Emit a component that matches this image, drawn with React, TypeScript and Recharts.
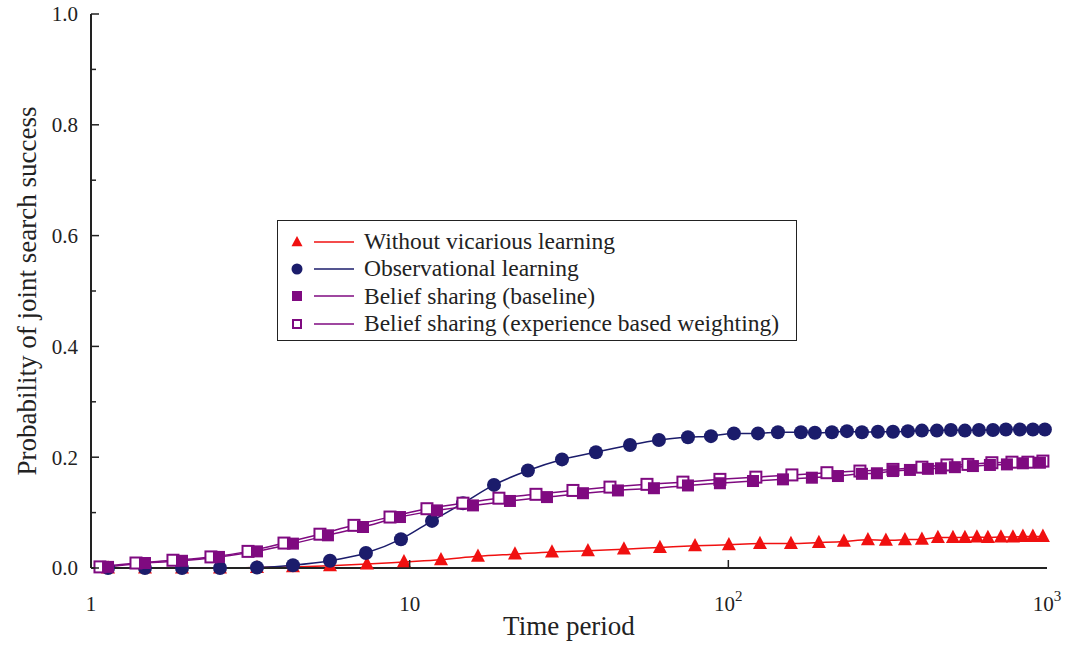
import React from 'react';
import { ComposedChart, Line, XAxis, YAxis, Legend } from 'recharts';

// time period at each marker, and the probability
const noVicariousTime = [1.131, 1.477, 1.93, 2.54, 3.318, 4.303, 5.623, 7.345, 9.596, 12.54, 16.38, 21.4, 27.96, 36.26, 47.03, 61.0, 78.6, 100.4, 125.7, 157.2, 192.4, 230.5, 274.2, 312.2, 358.2, 405.0, 454.6, 506.8, 552.6, 602.6, 652.4, 716.9, 781.8, 840.3, 903.0, 970.9];
const noVicariousProb = [0, 0, 0, 0, 0.001, 0.002, 0.004, 0.007, 0.011, 0.015, 0.021, 0.025, 0.029, 0.031, 0.034, 0.037, 0.04, 0.042, 0.044, 0.044, 0.046, 0.048, 0.051, 0.05, 0.051, 0.052, 0.055, 0.055, 0.055, 0.056, 0.055, 0.056, 0.056, 0.057, 0.057, 0.057];

const observationalTime = [1.131, 1.477, 1.93, 2.54, 3.318, 4.303, 5.623, 7.292, 9.39, 11.75, 14.7, 18.39, 23.5, 30.06, 38.42, 49.13, 60.57, 74.7, 88.2, 104.1, 123.9, 143.1, 169.0, 186.9, 211.4, 235.6, 262.6, 294.7, 328.6, 366.0, 405.0, 451.3, 499.4, 552.6, 611.5, 676.6, 743.1, 822.2, 903.0, 984.9];
const observationalProb = [0, 0, 0, 0, 0.001, 0.005, 0.013, 0.027, 0.052, 0.085, 0.117, 0.15, 0.176, 0.196, 0.209, 0.222, 0.231, 0.236, 0.238, 0.243, 0.243, 0.245, 0.245, 0.244, 0.245, 0.247, 0.245, 0.246, 0.246, 0.247, 0.248, 0.248, 0.249, 0.248, 0.249, 0.249, 0.25, 0.25, 0.25, 0.25];

const baselineTime = [1.131, 1.477, 1.93, 2.521, 3.318, 4.303, 5.541, 7.137, 9.324, 12.18, 15.8, 20.64, 26.97, 34.98, 45.04, 58.42, 74.7, 94.1, 119.5, 148.4, 182.9, 220.8, 262.6, 292.6, 328.6, 371.4, 423.0, 464.6, 514.0, 585.5, 662.0, 748.6, 840.3, 950.2];
const baselineProb = [0.002, 0.009, 0.013, 0.02, 0.03, 0.044, 0.059, 0.074, 0.092, 0.104, 0.113, 0.121, 0.128, 0.135, 0.14, 0.144, 0.149, 0.153, 0.157, 0.16, 0.163, 0.166, 0.17, 0.171, 0.175, 0.177, 0.179, 0.18, 0.182, 0.184, 0.186, 0.187, 0.189, 0.19];

const weightedTime = [1.067, 1.384, 1.808, 2.379, 3.11, 4.033, 5.23, 6.688, 8.676, 11.33, 14.7, 19.06, 24.91, 32.54, 42.52, 55.55, 72.03, 94.1, 122.0, 158.3, 203.9, 258.8, 328.6, 405.0, 485.3, 564.7, 671.5, 776.3, 871.1, 970.9];
const weightedProb = [0.002, 0.009, 0.014, 0.02, 0.03, 0.045, 0.061, 0.077, 0.092, 0.107, 0.117, 0.126, 0.133, 0.14, 0.146, 0.151, 0.155, 0.16, 0.164, 0.168, 0.172, 0.175, 0.178, 0.182, 0.186, 0.187, 0.19, 0.191, 0.191, 0.193];

const xTicks = [1, 10, 100, 1000];
const yTicks = [0, 0.1, 0.2, 0.3, 0.4, 0.5, 0.6, 0.7, 0.8, 0.9, 1.0];
const legendOrder = [
  'Without vicarious learning',
  'Observational learning',
  'Belief sharing (baseline)',
  'Belief sharing (experience based weighting)',
];

const FONT = '"Liberation Serif", "Times New Roman", serif';
const AXIS = '#222';
const RED = '#f01010';
const NAVY = '#1b1c6b';
const PURPLE = '#7f0a80';

const zip = (t: number[], p: number[]) => t.map((v, i) => ({ t: v, p: p[i] }));

type Mark = 'triangle' | 'circle' | 'square' | 'open';

function Marker({ kind, cx, cy, size }: { kind: Mark; cx: number; cy: number; size: number }) {
  const h = size / 2;
  if (kind === 'triangle') {
    return (
      <polygon
        points={`${cx},${cy - size * 0.6} ${cx - h - 0.5},${cy + size * 0.42} ${cx + h + 0.5},${cy + size * 0.42}`}
        fill={RED}
      />
    );
  }
  if (kind === 'circle') return <circle cx={cx} cy={cy} r={h + 0.5} fill={NAVY} />;
  if (kind === 'square') return <rect x={cx - h} y={cy - h} width={size} height={size} fill={PURPLE} />;
  return (
    <rect x={cx - h + 1} y={cy - h + 1} width={size - 2} height={size - 2} fill="#fff" stroke={PURPLE} strokeWidth={2} />
  );
}

const dotFor = (kind: Mark, size: number) => (p: any) => {
  if (p.cx == null || p.cy == null) return <g key={p.index} />;
  return <Marker key={p.index} kind={kind} cx={p.cx} cy={p.cy} size={size} />;
};

const markerByName: Record<string, Mark> = {
  'Without vicarious learning': 'triangle',
  'Observational learning': 'circle',
  'Belief sharing (baseline)': 'square',
  'Belief sharing (experience based weighting)': 'open',
};

function LeftTick({ x, y, payload }: any) {
  const major = Math.round(payload.value * 10) % 2 === 0;
  return (
    <g>
      <line x1={x} y1={y} x2={x + (major ? 8 : 5)} y2={y} stroke={AXIS} strokeWidth={1.5} />
      {major && (
        <text x={x - 13} y={y} dy="0.35em" textAnchor="end" fontFamily={FONT} fontSize={21} fill="#222">
          {payload.value.toFixed(1)}
        </text>
      )}
    </g>
  );
}

function RightTick({ x, y, payload }: any) {
  const major = Math.round(payload.value * 10) % 2 === 0;
  return <line x1={x} y1={y} x2={x - (major ? 8 : 5)} y2={y} stroke={AXIS} strokeWidth={1.5} />;
}

function BottomTick({ x, y, payload }: any) {
  const v = payload.value as number;
  const exp = Math.round(Math.log10(v));
  return (
    <g>
      {exp > 0 && exp < 3 && <line x1={x} y1={y} x2={x} y2={y - 8} stroke={AXIS} strokeWidth={1.5} />}
      <text x={x} y={y + 43} textAnchor="middle" fontFamily={FONT} fontSize={21} fill="#222">
        {exp < 2 ? String(v) : '10'}
        {exp >= 2 && (
          <tspan dy={-10} fontSize={15}>
            {exp}
          </tspan>
        )}
      </text>
    </g>
  );
}

function TopTick({ x, y, payload }: any) {
  const exp = Math.round(Math.log10(payload.value));
  if (exp <= 0 || exp >= 3) return <g />;
  return <line x1={x} y1={y} x2={x} y2={y + 8} stroke={AXIS} strokeWidth={1.5} />;
}

function LegendBox({ payload }: any) {
  const items = [...(payload || [])].sort(
    (a: any, b: any) => legendOrder.indexOf(a.value) - legendOrder.indexOf(b.value),
  );
  return (
    <div
      style={{
        border: '1.5px solid #222',
        background: '#fff',
        padding: '7px 0 4px 0',
        fontFamily: FONT,
        fontSize: 23.5,
        color: '#222',
        boxSizing: 'border-box',
        height: 121,
      }}
    >
      {items.map((it: any) => (
        <div key={it.value} style={{ display: 'flex', alignItems: 'center', height: 27.3, whiteSpace: 'nowrap' }}>
          <svg width={86} height={20} style={{ flex: 'none' }}>
            <Marker kind={markerByName[it.value]} cx={19} cy={10} size={10} />
            <line x1={36} y1={10} x2={76} y2={10} stroke={it.color} strokeWidth={1.5} />
          </svg>
          <span style={{ marginLeft: 0 }}>{it.value}</span>
        </div>
      ))}
    </div>
  );
}

export default function App() {
  return (
    <div style={{ position: 'absolute', left: 0, top: 0, width: 1068, height: 649, background: '#fff' }}>
      <ComposedChart width={1068} height={649} margin={{ top: 14, right: 21, bottom: 0, left: 0 }}>
        <XAxis
          dataKey="t"
          type="number"
          scale="log"
          domain={[1, 1000]}
          ticks={xTicks}
          interval={0}
          height={81}
          tickSize={0}
          tickMargin={0}
          tickLine={false}
          axisLine={{ stroke: AXIS, strokeWidth: 2 }}
          tick={<BottomTick />}
          label={{
            content: (props: any) => {
              const vb = props.viewBox;
              return (
                <text x={vb.x + vb.width / 2} y={vb.y + 67} textAnchor="middle" fontFamily={FONT} fontSize={27} fill="#222">
                  Time period
                </text>
              );
            },
          }}
        />
        <XAxis
          xAxisId="top"
          orientation="top"
          dataKey="t"
          type="number"
          scale="log"
          domain={[1, 1000]}
          ticks={xTicks}
          interval={0}
          height={0}
          tickSize={0}
          tickMargin={0}
          tickLine={false}
          axisLine={{ stroke: AXIS, strokeWidth: 2 }}
          tick={<TopTick />}
        />
        <YAxis
          type="number"
          domain={[0, 1]}
          ticks={yTicks}
          interval={0}
          width={91}
          tickSize={0}
          tickMargin={0}
          tickLine={false}
          axisLine={{ stroke: AXIS, strokeWidth: 2 }}
          tick={<LeftTick />}
          label={{
            content: (props: any) => {
              const vb = props.viewBox;
              const cx = vb.x + 27;
              const cy = vb.y + vb.height / 2;
              return (
                <text
                  x={cx}
                  y={cy}
                  transform={`rotate(-90 ${cx} ${cy})`}
                  textAnchor="middle"
                  dominantBaseline="central"
                  fontFamily={FONT}
                  fontSize={27}
                  fill="#222"
                >
                  Probability of joint search success
                </text>
              );
            },
          }}
        />
        <YAxis
          yAxisId="right"
          orientation="right"
          type="number"
          domain={[0, 1]}
          ticks={yTicks}
          interval={0}
          width={0}
          tickSize={0}
          tickMargin={0}
          tickLine={false}
          axisLine={{ stroke: AXIS, strokeWidth: 2 }}
          tick={<RightTick />}
        />
        <Legend
          layout="vertical"
          align="center"
          verticalAlign="middle"
          wrapperStyle={{ left: 277, top: 220, width: 520, height: 121 }}
          content={<LegendBox />}
        />
        <Line
          name="Without vicarious learning"
          data={zip(noVicariousTime, noVicariousProb)}
          dataKey="p"
          type="monotone"
          stroke={RED}
          strokeWidth={1.5}
          dot={dotFor('triangle', 13)}
          isAnimationActive={false}
        />
        <Line
          name="Observational learning"
          data={zip(observationalTime, observationalProb)}
          dataKey="p"
          type="monotone"
          stroke={NAVY}
          strokeWidth={1.5}
          dot={dotFor('circle', 13)}
          isAnimationActive={false}
        />
        <Line
          name="Belief sharing (experience based weighting)"
          data={zip(weightedTime, weightedProb)}
          dataKey="p"
          type="monotone"
          stroke={PURPLE}
          strokeWidth={1.5}
          dot={dotFor('open', 13)}
          isAnimationActive={false}
        />
        <Line
          name="Belief sharing (baseline)"
          data={zip(baselineTime, baselineProb)}
          dataKey="p"
          type="monotone"
          stroke={PURPLE}
          strokeWidth={1.5}
          dot={dotFor('square', 12)}
          isAnimationActive={false}
        />
      </ComposedChart>
    </div>
  );
}
